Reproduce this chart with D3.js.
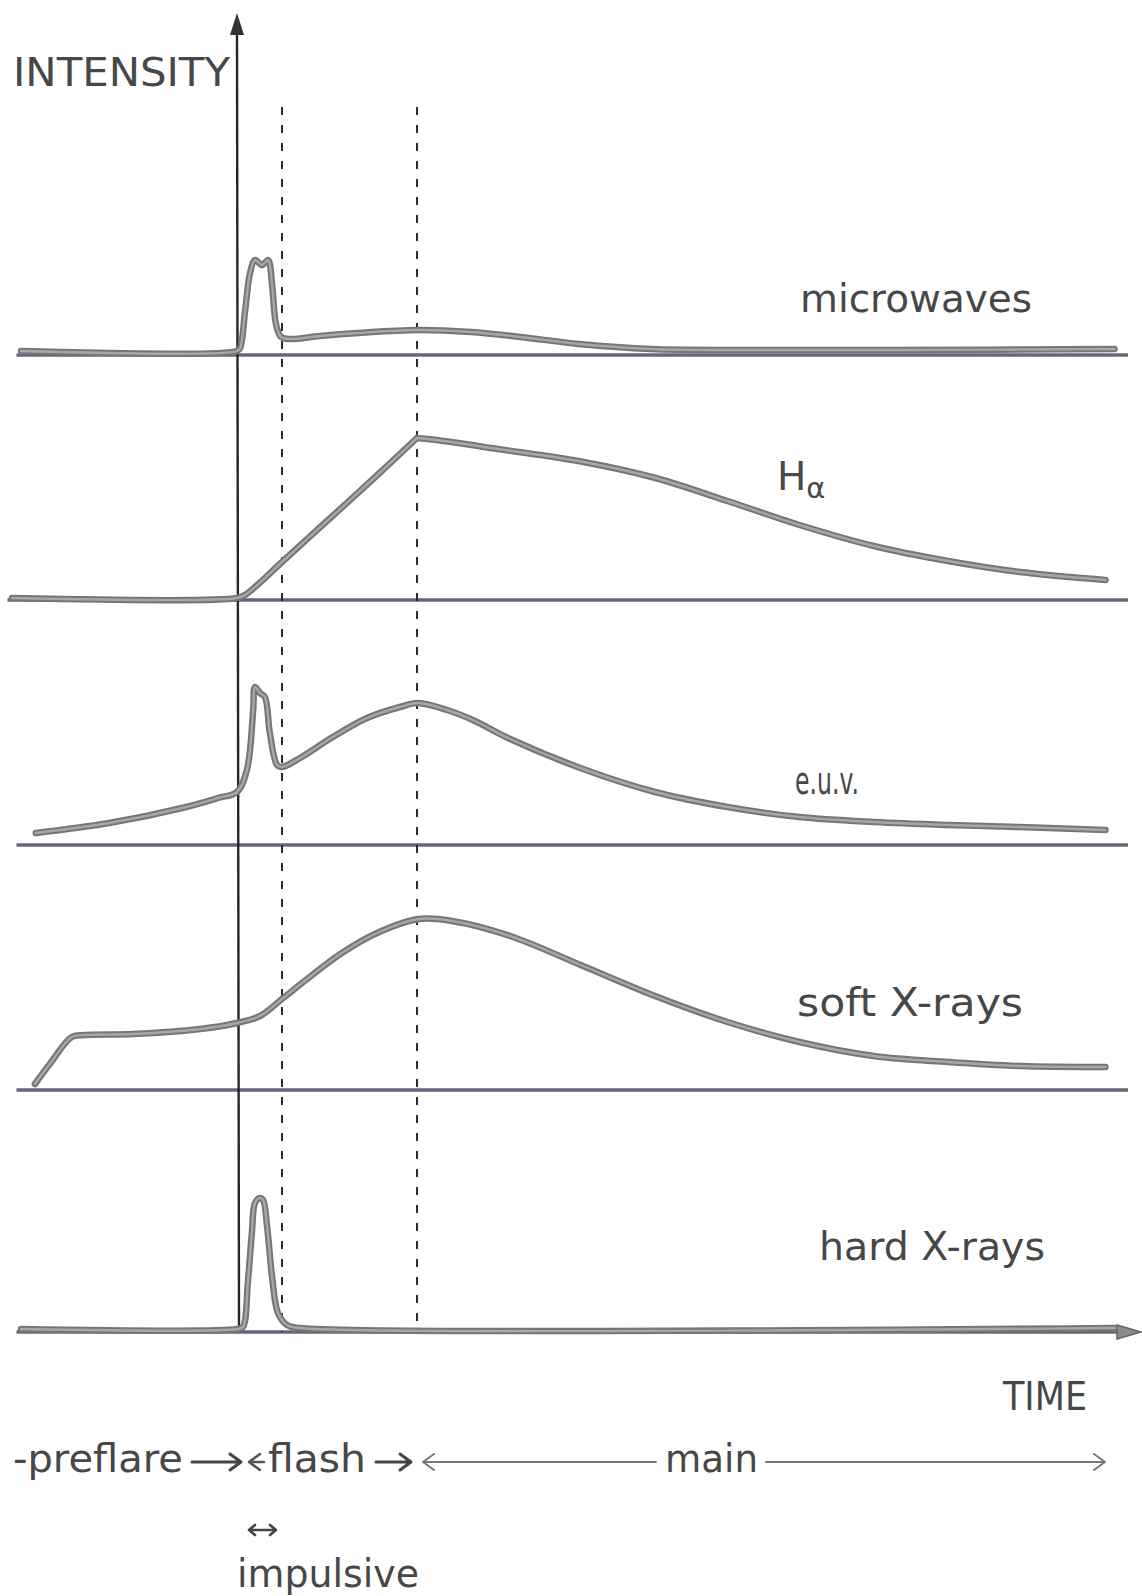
<!DOCTYPE html>
<html>
<head>
<meta charset="utf-8">
<script src="https://cdn.jsdelivr.net/npm/d3@7"></script>
<style>
  html, body { margin: 0; padding: 0; background: #ffffff; }
  svg { display: block; }
  text { font-family: "DejaVu Sans", sans-serif; fill: #474747; }
</style>
</head>
<body>
<script>
// Schematic time profiles of a solar flare in five wavebands.
// Each series is [time, intensity] in arbitrary units; time 0 = flare onset.
const microwaves = [
  [-48, 2], [0, 2], [0.7, 3.5], [1.8, 22], [2.9, 41], [4, 47.5], [5.6, 45],
  [6.9, 47.5], [7.8, 35], [8.7, 15], [9.8, 9], [11.8, 8], [18.4, 9.5], [27, 11],
  [40, 12.5], [52, 11.5], [63, 9], [76, 5.5], [92, 3], [114, 2.5], [147, 2.5], [195, 3]
];
const hAlpha = [
  [-50, 1], [0, 1], [2, 2.8], [5, 8.5], [10, 19], [20, 39.5], [30, 60], [40, 81],
  [44.4, 80], [58, 75.5], [77, 69], [93, 61], [109, 49.5], [125, 37.5],
  [141.5, 27], [158, 19.5], [174, 14], [193, 10]
];
const euv = [
  [-44.7, 6], [-28.4, 11], [-12.2, 18.5], [-4.2, 23.5], [0, 26.5], [2.2, 37.5],
  [3.6, 67.5], [4, 79], [5.1, 76], [6.2, 74], [7.3, 56], [8.9, 40], [10, 39],
  [14, 43.5], [21.3, 54], [28.9, 63.5], [36.2, 69], [40.2, 71], [46.7, 67.5],
  [52.4, 62.5], [60.7, 53], [76.9, 38], [92.9, 26.5], [109, 19], [125, 14],
  [141.5, 11.5], [158, 10], [174, 9], [193, 7.5]
];
const softXrays = [
  [-44.9, 3], [-41.6, 13], [-36.7, 26.5], [-33.8, 27.5], [-23.1, 28], [-8.2, 30.5],
  [0, 33.5], [5.1, 37], [10, 45.5], [15.3, 55], [23.3, 68.5], [31.6, 79], [40.4, 85.5],
  [47.8, 84.5], [60.7, 77], [76.9, 62], [92.9, 47], [109, 34], [125, 24],
  [141.5, 17], [158, 14], [174, 12], [193, 11.5]
];
const hardXrays = [
  [-48, 1.5], [0, 1.5], [1.3, 2.5], [2.4, 24.5], [3.3, 49.5], [4, 64.5], [5.1, 67],
  [5.8, 66], [6.7, 52.5], [7.8, 27.5], [9.1, 9.5], [11.1, 3.5], [14, 2], [195, 2]
];

const seriesNames = ["microwaves", "H", "e.u.v.", "soft X-rays", "hard X-rays"];
const phaseBoundaries = [10, 40];          // end of flash phase, start of main phase
const phaseNames = ["preflare", "flash", "main"];
const impulsiveName = "impulsive";
const axisNames = ["INTENSITY", "TIME"];

// ---- layout ----
const W = 1142, H = 1596;
const svg = d3.select("body").append("svg").attr("width", W).attr("height", H);

const x = d3.scaleLinear().domain([-50, 196]).range([12, 1119]);
const panelBase = [355, 600, 845, 1090, 1332];
const panelData = [microwaves, hAlpha, euv, softXrays, hardXrays];
const yFor = base => d3.scaleLinear().domain([0, 100]).range([base, base - 200]);

// zero lines of each panel
panelBase.forEach((b, i) => {
  svg.append("line")
    .attr("x1", x(i === 1 ? -51 : -49)).attr("x2", x(i === 4 ? 196 : 198))
    .attr("y1", b).attr("y2", b)
    .attr("stroke", "#66667a").attr("stroke-width", 3.4);
});

// time arrowhead at the end of the lowest zero line
svg.append("path")
  .attr("d", d3.line()([[x(196) - 2, 1325], [1141, 1332], [x(196) - 2, 1339]]) + "Z")
  .attr("fill", "#8a8a8a").attr("stroke", "#666").attr("stroke-width", 1.5);

// phase boundaries (dashed)
phaseBoundaries.forEach(t => {
  svg.append("line")
    .attr("x1", x(t)).attr("x2", x(t))
    .attr("y1", 107).attr("y2", 1332)
    .attr("stroke", "#2a2a2a").attr("stroke-width", 2)
    .attr("stroke-dasharray", "8 10");
});

// intensity axis
svg.append("line")
  .attr("x1", x(0)).attr("x2", x(0) + 2)
  .attr("y1", 30).attr("y2", 1332)
  .attr("stroke", "#262626").attr("stroke-width", 2.4);
svg.append("path")
  .attr("d", d3.line()([[x(0) - 7, 35], [x(0), 13], [x(0) + 7, 35]]) + "Z")
  .attr("fill", "#333");

// curves: dark outer stroke with lighter core, like an inked pen trace.
// A series may be broken into smooth pieces at a sharp corner (Hα maximum).
const line = d3.line().curve(d3.curveCatmullRom.alpha(0.5));
const cornerAt = { 1: [7] };
panelData.forEach((data, i) => {
  const y = yFor(panelBase[i]);
  const pts = data.map(d => [x(d[0]), y(d[1])]);
  const cuts = [0, ...(cornerAt[i] || []), pts.length - 1];
  const pieces = d3.pairs(cuts).map(([a, b]) => pts.slice(a, b + 1));
  const d = pieces.map(p => line(p)).join("");
  svg.append("path").attr("d", d)
    .attr("fill", "none").attr("stroke", "#767676")
    .attr("stroke-width", 6.5).attr("stroke-linejoin", "round").attr("stroke-linecap", "round");
  svg.append("path").attr("d", d)
    .attr("fill", "none").attr("stroke", "#a8a8a2")
    .attr("stroke-width", 2.4).attr("stroke-linejoin", "round").attr("stroke-linecap", "round");
});

// ---- labels ----
const fs = 39;
function label(txt, x0, y0, len, size) {
  const t = svg.append("text").attr("x", x0).attr("y", y0)
    .attr("font-size", size || fs).text(txt);
  if (len) t.attr("textLength", len).attr("lengthAdjust", "spacingAndGlyphs");
  return t;
}
label(axisNames[0], 13, 86, 217);
label(axisNames[1], 1003, 1410, 84);

label(seriesNames[0], 800, 312, 232);
const ha = svg.append("text").attr("x", 777).attr("y", 490).attr("font-size", fs);
ha.append("tspan").text(seriesNames[1]);
ha.append("tspan").attr("font-size", 29).attr("dy", 8).text("α");
label(seriesNames[2], 795, 794, 64);
label(seriesNames[3], 797, 1016, 226);
label(seriesNames[4], 819, 1260, 226);

// ---- phase annotation row ----
const rowY = 1472, arrowY = 1462;
label("-" + phaseNames[0], 13, rowY, 170);
label(phaseNames[1], 268, rowY, 98);
label(phaseNames[2], 665, rowY, 93);

const g = svg.append("g").attr("fill", "none").attr("stroke-linecap", "round").attr("stroke-linejoin", "round");
function rightArrow(x1, x2, w, col) {
  g.append("path").attr("d", `M${x1},${arrowY}H${x2}M${x2 - 11},${arrowY - 8}L${x2},${arrowY}L${x2 - 11},${arrowY + 8}`)
    .attr("stroke", col).attr("stroke-width", w);
}
function leftArrow(x1, x2, w, col) {
  g.append("path").attr("d", `M${x2},${arrowY}H${x1}M${x1 + 11},${arrowY - 8}L${x1},${arrowY}L${x1 + 11},${arrowY + 8}`)
    .attr("stroke", col).attr("stroke-width", w);
}
rightArrow(192, 241, 3, "#444");
leftArrow(249, 264, 2.5, "#555");
rightArrow(376, 411, 3, "#444");
leftArrow(423, 656, 2, "#777");
rightArrow(766, 1105, 2, "#777");

// impulsive phase marker
const iy = 1530;
g.append("path")
  .attr("d", `M249,${iy}H276M255,${iy - 5}L249,${iy}L255,${iy + 5}M270,${iy - 5}L276,${iy}L270,${iy + 5}`)
  .attr("stroke", "#444").attr("stroke-width", 2.6);
label(impulsiveName, 237, 1587, 182);
</script>
</body>
</html>
